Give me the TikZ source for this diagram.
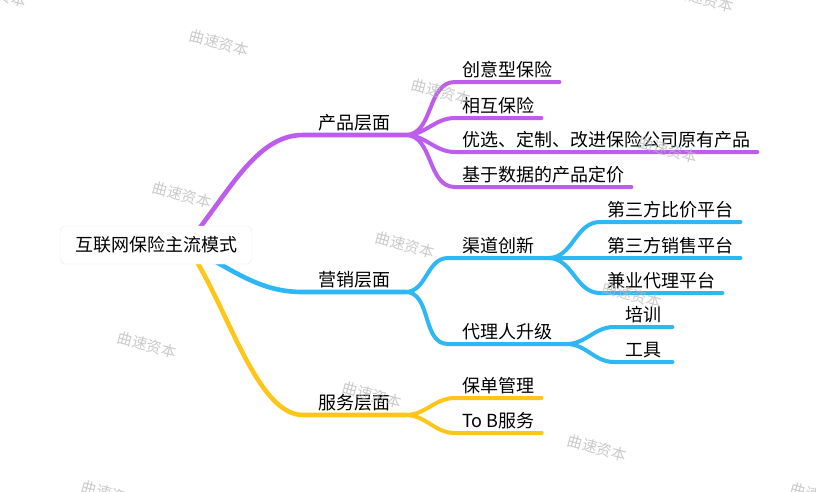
\documentclass[tikz,border=0pt]{standalone}
\usepackage{fontspec}
\setmainfont{Noto Sans CJK SC}
\usetikzlibrary{backgrounds}
\definecolor{prodpurple}{HTML}{BD5DEE}
\definecolor{mktblue}{HTML}{2DB7F5}
\definecolor{srvyellow}{HTML}{FFC61A}
\definecolor{rootedge}{HTML}{EBEBEB}
\definecolor{marktext}{HTML}{B8B8B8}
\tikzset{
  topic/.style={anchor=south west, inner ysep=0pt, text height=14pt, text depth=5.5pt, font=\fontsize{18}{20}\selectfont},
  leaftopic/.style={topic, inner xsep=7pt},
  subtopic/.style={topic, inner xsep=14pt},
  maintopic/.style={topic, inner xsep=15pt},
  roottopic/.style={draw=rootedge, fill=white, rounded corners=6pt, inner xsep=15pt, minimum height=38pt, text height=13.6pt, text depth=0pt, font=\fontsize{18}{20}\selectfont},
  branch/.style={line width=4pt, line cap=round, line join=round},
  trunk/.style={line width=4.6pt, line cap=round},
  watermark/.style={text=marktext, opacity=0.75, rotate=-15, font=\fontsize{15}{15}\selectfont},
}

\begin{document}
\begin{tikzpicture}[x=1pt, y=-1pt]
  \useasboundingbox (0,0) rectangle (816,491);
  \begin{scope}[on background layer]
    \fill[white] (0,0) rectangle (816,491);
  \end{scope}

  % root and first level
  \node[roottopic] (root) at (156,245) {互联网保险主流模式};
  \node[maintopic] (prod) at (303,135) {产品层面};
  \node[maintopic] (mkt) at (303,292) {营销层面};
  \node[maintopic] (srv) at (303,415) {服务层面};

  % product leaves
  \node[leaftopic] (c1) at (455,82) {创意型保险};
  \node[leaftopic] (c2) at (455,118) {相互保险};
  \node[leaftopic] (c3) at (455,152) {优选、定制、改进保险公司原有产品};
  \node[leaftopic] (c4) at (455,187) {基于数据的产品定价};

  % marketing
  \node[subtopic] (chan) at (448,258) {渠道创新};
  \node[subtopic] (agent) at (448,344) {代理人升级};
  \node[leaftopic] (p1) at (600,222) {第三方比价平台};
  \node[leaftopic] (p2) at (600,258) {第三方销售平台};
  \node[leaftopic] (p3) at (600,293) {兼业代理平台};
  \node[leaftopic, inner xsep=11pt] (t1) at (614,327) {培训};
  \node[leaftopic, inner xsep=11pt] (t2) at (614,362) {工具};

  % service
  \node[leaftopic] (s1) at (455,398) {保单管理};
  \node[leaftopic] (s2) at (455,433) {To B服务};

  \coordinate (hub) at ([xshift=30pt]root.center);
  \begin{scope}[on background layer]
    \draw[trunk,prodpurple] (hub) .. controls +(42,-50) and +(-48,0) .. (prod.south west) -- (prod.south east);
    \draw[trunk,mktblue] (hub) .. controls +(50,27) and +(-43,0) .. (mkt.south west) -- (mkt.south east);
    \draw[trunk,srvyellow] (hub) .. controls +(40,55) and +(-48,0) .. (srv.south west) -- (srv.south east);
  \end{scope}

  \foreach \c in {c1,c2,c3,c4}
    \draw[branch,prodpurple] (prod.south east) to[out=0,in=180] (\c.south west) -- (\c.south east);
  \foreach \c in {chan,agent}
    \draw[branch,mktblue] (mkt.south east) to[out=0,in=180] (\c.south west) -- (\c.south east);
  \foreach \c in {p1,p2,p3}
    \draw[branch,mktblue] (chan.south east) to[out=0,in=180] (\c.south west) -- (\c.south east);
  \foreach \c in {t1,t2}
    \draw[branch,mktblue] (agent.south east) to[out=0,in=180] (\c.south west) -- (\c.south east);
  \foreach \c in {s1,s2}
    \draw[branch,srvyellow] (srv.south east) to[out=0,in=180] (\c.south west) -- (\c.south east);

  % watermark grid
  \foreach \wx/\wy [count=\i] in {-3/-6,219/43,441/92,668/150,704/-1,182/195,405/245,632/295,147/345,372/395,597/448,111/494,820/496}
    \node[watermark] (wm\i) at (\wx,\wy) {曲速资本};
\end{tikzpicture}
\end{document}
